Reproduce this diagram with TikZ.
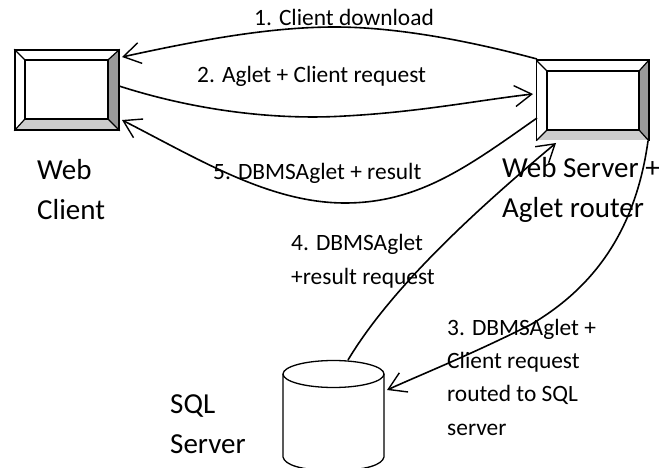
\documentclass[tikz,border=0pt]{standalone}
\usepackage{fontspec}
\setmainfont{Carlito}
\usetikzlibrary{arrows.meta}

\tikzset{
    box/.style={line width=1.5pt,rectangle,inner sep=0pt},
    boxline/.style={line width=1.2pt,line join=miter},
    link/.style={line width=1.6pt},
    linkarrow/.style={link,-{Straight Barb[length=17pt,width=21pt,line width=1.4pt]}},
    lbl/.style={anchor=base west,inner sep=0pt,align=left,font=\fontsize{23.4}{33.3}\selectfont},
    biglbl/.style={anchor=base west,inner sep=0pt,align=left,font=\fontsize{29}{40}\selectfont}
}

\begin{document}
\begin{tikzpicture}[x=1pt,y=-1pt]
    \useasboundingbox (0,0) rectangle (670,468);

    % Web client
    \fill[black!40] (119,50) -- (108,60) -- (108,119) -- (119,130) -- cycle;
    \fill[black!20] (15,130) -- (25,119) -- (108,119) -- (119,130) -- cycle;
    \node[box,draw,minimum width=104pt,minimum height=80pt] (client) at (67,90) {};
    \node[box,draw,line width=1.2pt,minimum width=83pt,minimum height=59pt] (clientin) at (66.5,89.5) {};
    \draw[boxline] (client.north west) -- (clientin.north west);
    \draw[boxline] (client.north east) -- (clientin.north east);
    \draw[boxline] (client.south west) -- (clientin.south west);
    \draw[boxline] (client.south east) -- (clientin.south east);

    % Web server
    \fill[black!40] (648,61) -- (639,71) -- (639,130) -- (648,140) -- cycle;
    \fill[black!20] (537,140) -- (547,130) -- (639,130) -- (648,140) -- cycle;
    \node[box,minimum width=111pt,minimum height=79pt] (server) at (592.5,100.5) {};
    \node[box,draw,line width=1.2pt,minimum width=92pt,minimum height=59pt] (serverin) at (593,100.5) {};
    \draw[box] (server.south west) -- (server.north west) -- (server.north east) -- (server.south east);
    \draw[boxline] (server.north west) -- (serverin.north west);
    \draw[boxline] (server.north east) -- (serverin.north east);
    \draw[boxline] (server.south west) -- (serverin.south west);
    \draw[boxline] (server.south east) -- (serverin.south east);

    % SQL server
    \coordinate (sqlcap) at (333.5,374);
    \draw[line width=1.3pt] (sqlcap) ellipse (50.5pt and 13.5pt);
    \draw[line width=1.3pt] (283,374) -- (283,457) .. controls (285,465) and (300,470) .. (333.5,471)
        .. controls (367,470) and (382,465) .. (384,457) -- (384,374);
    \coordinate (sqltop) at (348,360);
    \coordinate (sqlside) at (387,390);

    % Link ends
    \coordinate (clienta) at (122,57);
    \coordinate (clientb) at (119,86);
    \coordinate (clientc) at (122,120);
    \coordinate (servera) at (537,59);
    \coordinate (serverb) at (533,94);
    \coordinate (serverc) at (537,118);
    \coordinate (serverd) at (556,143);
    \coordinate (servere) at (648,141);

    % Links
    \draw[linkarrow] (servera) .. controls (440,33) and (375,27) .. (335,27)
        .. controls (270,27) and (200,40) .. (clienta);
    \draw[linkarrow] (clientb) .. controls (200,112) and (280,120) .. (345,116)
        .. controls (420,112) and (480,100) .. (serverb);
    \draw[linkarrow] (serverc) .. controls (470,165) and (420,203) .. (345,203)
        .. controls (270,203) and (200,160) .. (clientc);
    \draw[linkarrow] (sqltop) .. controls (390,290) and (470,215) .. (serverd);
    \draw[linkarrow] (servere) .. controls (635,235) and (590,290) .. (530,325)
        .. controls (470,355) and (420,375) .. (sqlside);

    % Labels
    \node[lbl] (t1) at (254,26) {1. Client download};
    \node[lbl] (t2) at (197,83) {2. Aglet + Client request};
    \node[lbl] (t5) at (213,180) {5. DBMSAglet + result};
    \node[lbl] (t4) at (291,284) {4. DBMSAglet\\+result request};
    \node[lbl] (t3) at (447,435) {3. DBMSAglet +\\Client request\\routed to SQL\\server};
    \node[biglbl] (tclient) at (37,220) {Web\\Client};
    \node[biglbl] (tserver) at (502,218) {Web Server +\\Aglet router};
    \node[biglbl] (tsql) at (170,453) {SQL\\Server};
\end{tikzpicture}
\end{document}
